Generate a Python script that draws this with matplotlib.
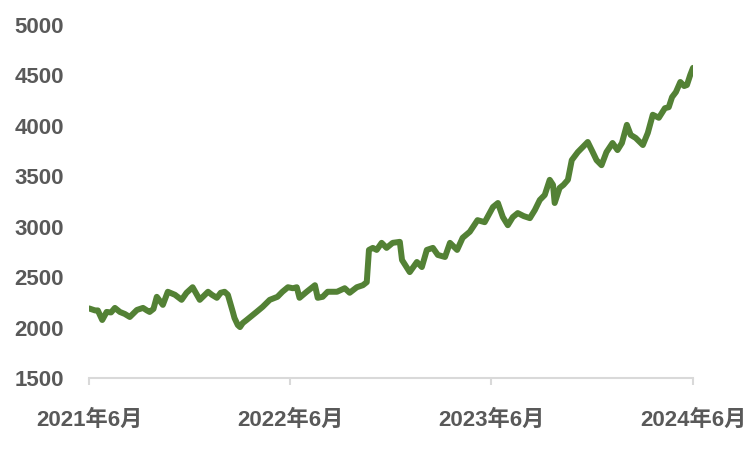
import matplotlib
matplotlib.use("Agg")
import matplotlib.pyplot as plt
import pandas as pd

dates = [
    "2021-06-01", "2021-06-12", "2021-06-17", "2021-06-25", "2021-07-03", "2021-07-11",
    "2021-07-18", "2021-07-27", "2021-08-05", "2021-08-14", "2021-08-27", "2021-09-07",
    "2021-09-14", "2021-09-19", "2021-09-26", "2021-10-02", "2021-10-13", "2021-10-22",
    "2021-11-04", "2021-11-16", "2021-11-25", "2021-12-06", "2021-12-19", "2022-01-03",
    "2022-01-10", "2022-01-19", "2022-01-26", "2022-02-02", "2022-02-08", "2022-02-17",
    "2022-02-20", "2022-02-26", "2022-03-02", "2022-03-07", "2022-03-14", "2022-03-23",
    "2022-04-01", "2022-04-12", "2022-04-25", "2022-05-09", "2022-05-18", "2022-05-28",
    "2022-06-06", "2022-06-13", "2022-06-18", "2022-07-01", "2022-07-16", "2022-07-21",
    "2022-07-30", "2022-08-08", "2022-08-25", "2022-09-08", "2022-09-17", "2022-09-30",
    "2022-10-11", "2022-10-18", "2022-10-22", "2022-10-29", "2022-11-05", "2022-11-14",
    "2022-11-23", "2022-12-04", "2022-12-17", "2022-12-21", "2022-12-28", "2023-01-04",
    "2023-01-17", "2023-01-26", "2023-02-04", "2023-02-15", "2023-02-24", "2023-03-09",
    "2023-03-18", "2023-03-31", "2023-04-10", "2023-04-23", "2023-05-07", "2023-05-20",
    "2023-06-04", "2023-06-13", "2023-06-22", "2023-07-01", "2023-07-10", "2023-07-19",
    "2023-07-30", "2023-08-10", "2023-08-19", "2023-08-28", "2023-09-06", "2023-09-15",
    "2023-09-21", "2023-09-24", "2023-10-03", "2023-10-10", "2023-10-18", "2023-10-25",
    "2023-11-05", "2023-11-14", "2023-11-23", "2023-12-02", "2023-12-09", "2023-12-18",
    "2023-12-27", "2024-01-07", "2024-01-16", "2024-01-24", "2024-02-02", "2024-02-09",
    "2024-02-18", "2024-03-02", "2024-03-11", "2024-03-20", "2024-03-31", "2024-04-11",
    "2024-04-18", "2024-04-24", "2024-05-01", "2024-05-09", "2024-05-16", "2024-05-21",
    "2024-05-27", "2024-06-01",
]
values = [
    2190, 2170, 2170, 2075, 2155, 2150,
    2195, 2155, 2135, 2105, 2175, 2195,
    2170, 2155, 2185, 2305, 2225, 2355,
    2325, 2275, 2345, 2400, 2275, 2355,
    2325, 2295, 2345, 2355, 2325, 2155,
    2095, 2025, 2005, 2045, 2075, 2115,
    2155, 2205, 2275, 2305, 2355, 2400,
    2390, 2400, 2295, 2355, 2420, 2295,
    2305, 2355, 2355, 2390, 2345, 2400,
    2420, 2450, 2770, 2790, 2770, 2840,
    2790, 2840, 2850, 2670, 2610, 2550,
    2650, 2600, 2770, 2790, 2720, 2700,
    2840, 2770, 2890, 2950, 3065, 3045,
    3195, 3235, 3095, 3015, 3095, 3135,
    3105, 3085, 3165, 3265, 3315, 3465,
    3415, 3235, 3385, 3415, 3465, 3660,
    3740, 3790, 3840, 3740, 3660, 3610,
    3740, 3830, 3760, 3830, 4010, 3910,
    3880, 3810, 3930, 4110, 4080, 4175,
    4185, 4285, 4335, 4435, 4395, 4405,
    4505, 4575,
]
tick_dates = ["2021-06-01", "2022-06-01", "2023-06-01", "2024-06-01"]
tick_labels = ["2021年6月", "2022年6月", "2023年6月", "2024年6月"]
y_ticks = [1500, 2000, 2500, 3000, 3500, 4000, 4500, 5000]

x = pd.to_datetime(dates)
fig = plt.figure(figsize=(7.5, 4.5), dpi=100)
ax = fig.add_axes([89/750, 72/450, (693-89)/750, (378-25)/450])
ax.plot(x, values, color="#538135", lw=4.3, solid_joinstyle="round", solid_capstyle="round")

ax.set_xlim(pd.Timestamp(tick_dates[0]), pd.Timestamp(tick_dates[-1]))
ax.set_ylim(1500, 5000)
ax.set_yticks(y_ticks)
ax.set_yticklabels([str(v) for v in y_ticks], fontsize=16, fontweight="bold",
                   color="#595959", family=["Liberation Sans", "DejaVu Sans"])
ax.set_xticks(pd.to_datetime(tick_dates))
ax.set_xticklabels(tick_labels, fontsize=16, fontweight="bold", color="#595959",
                   family=["Liberation Sans", "Noto Sans CJK SC"])

for s in ["top", "right", "left"]:
    ax.spines[s].set_visible(False)
ax.spines["bottom"].set_color("#d9d9d9")
ax.spines["bottom"].set_linewidth(1.5)
ax.tick_params(axis="y", length=0, pad=18)
ax.tick_params(axis="x", length=5, width=1.5, color="#d9d9d9", pad=18, direction="out")

fig.savefig("out.png", dpi=100)
